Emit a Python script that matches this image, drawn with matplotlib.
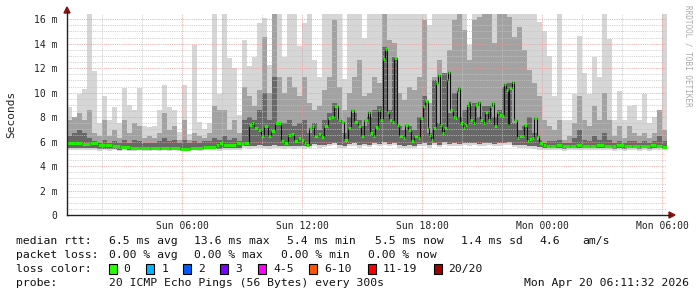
import numpy as np
import matplotlib
matplotlib.use("Agg")
import matplotlib.pyplot as plt
from matplotlib.patches import Rectangle, Polygon

# ---------------- data ----------------
start_hour = 0.25      # graph starts Sun 00:15 (hours since Sun 00:00)
step_h = 0.25          # smoke sampled every 15 min

smoke_max = [8.8, 8.0, 9.9, 10.3, 16.4, 11.8, 7.5, 9.7, 7.8, 8.8, 7.5, 10.4, 9.0, 8.6, 10.4, 7.3, 7.2, 7.3, 8.6, 10.6, 8.8, 8.6, 6.8, 10.6,
             6.6, 13.9, 7.6, 7.0, 7.5, 16.4, 9.9, 16.4, 12.8, 12.0, 8.2, 14.3, 12.2, 12.9, 15.7, 16.1, 12.3, 16.4, 16.4, 12.9, 16.4, 16.4, 13.8, 15.7,
             16.4, 12.7, 11.3, 16.4, 16.4, 16.4, 16.4, 11.1, 16.4, 16.4, 16.4, 14.5, 16.4, 16.4, 16.4, 16.4, 16.4, 16.4, 16.4, 16.4, 16.4, 16.4, 16.4, 16.4,
             15.5, 16.4, 16.4, 16.4, 16.4, 16.4, 16.4, 16.4, 13.9, 16.4, 16.4, 16.4, 16.4, 16.4, 16.4, 16.4, 16.4, 16.4, 16.4, 16.4, 16.4, 16.4, 15.8, 15.0,
             13.0, 9.7, 16.4, 7.8, 7.8, 9.9, 14.6, 11.6, 9.9, 12.9, 11.3, 16.4, 14.4, 7.8, 10.1, 7.8, 8.9, 9.0, 7.8, 9.9, 7.5, 8.0, 7.8, 16.4]

smoke_mid = [7.78, 8.05, 8.33, 7.78, 8.6, 6.69, 6.42, 7.78, 6.42, 6.97, 6.28, 7.78, 6.69, 7.51, 7.24, 6.28, 6.42, 6.28, 6.69, 8.33, 6.97, 7.24, 6.15, 7.78,
             6.15, 6.69, 6.42, 6.28, 6.69, 8.87, 8.6, 8.6, 6.97, 7.78, 6.69, 10.5, 9.69, 8.87, 10.23, 14.58, 9.96, 16.4, 11.32, 9.96, 11.32, 10.5, 9.69, 11.32,
             9.15, 8.6, 8.87, 10.23, 11.32, 15.94, 10.5, 8.6, 9.96, 11.32, 12.68, 9.69, 9.96, 11.32, 10.78, 16.4, 14.31, 14.04, 9.96, 9.42, 10.5, 10.23, 11.32, 15.94,
             9.15, 11.32, 12.68, 11.32, 13.5, 15.94, 16.4, 15.13, 12.68, 15.94, 16.21, 16.4, 16.4, 14.04, 16.4, 16.4, 16.21, 14.58, 15.4, 13.5, 11.86, 10.78, 9.69, 7.78,
             7.24, 6.97, 7.78, 6.15, 6.42, 7.51, 9.69, 7.78, 7.24, 8.87, 7.78, 9.96, 7.78, 6.42, 7.24, 6.28, 7.24, 6.69, 6.42, 6.69, 6.28, 6.69, 8.6, 6.97]

smoke_core = [6.42, 6.69, 6.97, 6.69, 6.28, 6.01, 5.88, 6.15, 5.88, 6.01, 5.88, 6.15, 5.88, 6.15, 6.01, 5.88, 5.88, 5.88, 6.01, 6.28, 6.01, 6.15, 5.88, 6.15,
              5.88, 6.01, 5.88, 6.01, 6.01, 6.28, 6.15, 6.42, 6.15, 6.28, 6.01, 7.78, 8.05, 7.78, 8.6, 9.96, 7.78, 11.32, 7.51, 7.51, 7.78, 7.24, 7.51, 7.78,
              6.69, 7.51, 6.97, 7.78, 8.33, 9.15, 7.78, 6.69, 8.05, 8.33, 7.78, 7.24, 8.05, 8.6, 8.87, 13.77, 8.6, 12.95, 7.24, 6.97, 7.24, 6.97, 8.05, 9.69,
              6.69, 11.04, 7.51, 11.59, 8.33, 9.96, 8.05, 8.6, 8.87, 9.15, 8.05, 8.87, 8.87, 8.05, 8.6, 10.5, 10.78, 7.51, 6.97, 7.24, 8.05, 6.69, 6.15, 5.88,
              6.01, 6.01, 6.15, 5.88, 5.88, 6.28, 6.97, 6.15, 6.01, 6.42, 6.15, 6.69, 6.15, 5.88, 6.01, 5.88, 6.01, 6.01, 5.88, 6.01, 5.88, 6.01, 6.42, 6.01]

smoke_min = [5.35, 5.3, 5.3, 5.35, 5.3, 5.3, 5.25, 5.3, 5.25, 5.3, 5.25, 5.3, 5.25, 5.25, 5.3, 5.25, 5.25, 5.3, 5.25, 5.3, 5.25, 5.3, 5.25, 5.3,
             5.25, 5.3, 5.25, 5.3, 5.3, 5.3, 5.25, 5.3, 5.3, 5.3, 5.3, 5.45, 5.4, 5.45, 5.5, 5.45, 5.4, 5.5, 5.45, 5.4, 5.45, 5.4, 5.45, 5.4,
             5.45, 5.6, 5.5, 5.55, 5.6, 5.7, 5.5, 5.45, 5.6, 5.65, 5.5, 5.6, 5.55, 5.7, 5.6, 5.75, 5.6, 5.7, 5.5, 5.45, 5.5, 5.45, 5.6, 5.65,
             5.5, 5.7, 5.55, 5.75, 5.6, 5.65, 5.6, 5.7, 5.65, 5.7, 5.6, 5.65, 5.7, 5.6, 5.65, 5.7, 5.75, 5.55, 5.5, 5.5, 5.45, 5.4, 5.35, 5.3,
             5.3, 5.3, 5.3, 5.25, 5.3, 5.3, 5.35, 5.3, 5.3, 5.3, 5.3, 5.35, 5.3, 5.25, 5.3, 5.25, 5.3, 5.3, 5.25, 5.3, 5.25, 5.3, 5.3, 5.3]

smoke_low = [5.5, 5.45, 5.45, 5.5, 5.45, 5.45, 5.4, 5.4, 5.4, 5.4, 5.35, 5.4, 5.35, 5.35, 5.4, 5.35, 5.35, 5.4, 5.35, 5.4, 5.35, 5.4, 5.35, 5.4,
             5.4, 5.4, 5.4, 5.45, 5.45, 5.45, 5.4, 5.45, 5.45, 5.5, 5.5, 5.65, 5.6, 5.65, 5.7, 5.65, 5.6, 5.7, 5.65, 5.6, 5.65, 5.6, 5.65, 5.6,
             5.65, 5.8, 5.7, 5.75, 5.8, 5.9, 5.7, 5.65, 5.8, 5.85, 5.7, 5.8, 5.75, 5.9, 5.8, 5.95, 5.8, 5.9, 5.7, 5.65, 5.7, 5.65, 5.8, 5.85,
             5.7, 5.9, 5.75, 5.95, 5.8, 5.85, 5.8, 5.9, 5.85, 5.9, 5.8, 5.85, 5.9, 5.8, 5.85, 5.9, 5.95, 5.75, 5.7, 5.7, 5.65, 5.6, 5.55, 5.5,
             5.45, 5.45, 5.45, 5.4, 5.45, 5.45, 5.5, 5.45, 5.45, 5.45, 5.45, 5.5, 5.45, 5.4, 5.45, 5.4, 5.45, 5.45, 5.4, 5.45, 5.4, 5.45, 5.45, 5.45]

# median rtt (hours after graph start, ms)
median_t = [0.00, 0.40, 0.75, 1.15, 1.55, 1.90, 2.25, 2.65, 3.15, 3.65, 4.15, 4.65, 5.15, 5.65, 6.15, 6.80, 7.45, 7.60, 7.80, 8.45, 8.70,
            8.87, 9.12, 9.24, 9.37, 9.54, 9.70, 9.87, 10.04, 10.20, 10.42, 10.59, 10.70, 10.87, 11.04, 11.20, 11.37, 11.54, 11.70, 11.87,
            11.95, 12.12, 12.25, 12.37, 12.54, 12.70, 12.87, 13.04, 13.20, 13.37, 13.54, 13.70, 13.87, 14.04, 14.20, 14.37, 14.54, 14.70,
            14.87, 15.04, 15.15, 15.29, 15.42, 15.54, 15.65, 15.79, 15.89, 16.00, 16.12, 16.25, 16.37, 16.49, 16.62, 16.79, 16.92, 17.04,
            17.20, 17.37, 17.54, 17.65, 17.79, 17.92, 18.04, 18.09, 18.20, 18.32, 18.45, 18.55, 18.65, 18.75, 18.87, 18.99, 19.07, 19.17,
            19.29, 19.42, 19.49, 19.57, 19.67, 19.79, 19.92, 19.99, 20.09, 20.17, 20.29, 20.42, 20.55, 20.67, 20.79, 20.90, 21.04, 21.15,
            21.25, 21.37, 21.49, 21.62, 21.75, 21.87, 21.95, 22.04, 22.12, 22.25, 22.37, 22.49, 22.62, 22.75, 22.87, 22.99, 23.12, 23.25,
            23.37, 23.49, 23.62, 23.79, 23.95, 24.15, 24.45, 24.75, 25.15, 25.45, 25.75, 26.15, 26.45, 26.85, 27.25, 27.45, 27.85, 28.25,
            28.65, 29.15, 29.45, 29.75]
median_ms = [5.85, 5.9, 5.8, 5.85, 5.75, 5.7, 5.6, 5.55, 5.5, 5.5, 5.45, 5.5, 5.45, 5.4, 5.45, 5.55, 5.7, 5.85, 5.7, 5.9, 5.8,
             5.88, 7.37, 7.56, 7.1, 6.97, 6.47, 7.24, 6.47, 6.83, 7.51, 7.56, 6.01, 5.88, 6.56, 6.64, 6.01, 6.28, 6.09, 5.88,
             5.74, 7.1, 7.29, 6.47, 6.64, 6.37, 7.24, 7.92, 8.05, 8.87, 7.78, 7.62, 6.09, 7.1, 8.6, 7.64, 7.24, 6.42,
             7.78, 8.38, 6.69, 6.42, 7.18, 8.6, 7.78, 12.73, 13.55, 8.46, 7.73, 7.64, 12.81, 7.37, 6.47, 6.28, 7.37, 6.97,
             6.01, 6.42, 6.28, 7.92, 8.87, 9.28, 7.1, 6.56, 6.15, 7.1, 10.83, 11.45, 7.37, 6.69, 7.1, 11.04, 11.72, 8.6,
             8.0, 7.92, 10.1, 10.37, 7.56, 7.1, 7.37, 9.01, 9.2, 7.78, 7.56, 9.01, 9.2, 7.78, 7.51, 8.46, 7.78, 8.87,
             9.14, 7.24, 8.46, 8.19, 8.11, 10.72, 10.23, 7.37, 10.37, 10.91, 7.78, 6.28, 6.47, 6.42, 7.37, 6.01, 6.2, 6.28,
             7.92, 6.42, 5.88, 5.74, 5.66, 5.65, 5.7, 5.6, 5.65, 5.7, 5.6, 5.6, 5.7, 5.6, 5.6, 5.7, 5.6, 5.6,
             5.65, 5.7, 5.6, 5.55]
graph_hours = 30.0

y_ticks = [0, 2, 4, 6, 8, 10, 12, 14, 16]
y_labels = ["0", "2 m", "4 m", "6 m", "8 m", "10 m", "12 m", "14 m", "16 m"]
x_ticks = [6, 12, 18, 24, 30]
x_labels = ["Sun 06:00", "Sun 12:00", "Sun 18:00", "Mon 00:00", "Mon 06:00"]

loss_labels = ["0", "1", "2", "3", "4-5", "6-10", "11-19", "20/20"]
loss_colors = ["#26ff00", "#00b8ff", "#0059ff", "#7e00ff", "#ff00ff", "#ff5500", "#ff0000", "#a10000"]

rtt_stats = ["6.5 ms avg", "13.6 ms max", "5.4 ms min", "5.5 ms now", "1.4 ms sd", "4.6", "am/s"]
loss_stats = ["0.00 % avg", "0.00 % max", "0.00 % min", "0.00 % now"]
probe_text = "20 ICMP Echo Pings (56 Bytes) every 300s"
stamp_text = "Mon Apr 20 06:11:32 2026"

# ---------------- figure ----------------
W, H = 697, 297
fig = plt.figure(figsize=(W / 100, H / 100), dpi=100)
fig.patch.set_facecolor("white")
ax = fig.add_axes([67 / W, (H - 215) / H, 600 / W, 201 / H])
ax.set_facecolor("white")

n = len(smoke_max)
edges = start_hour + step_h * np.arange(n + 1)
def ext(a):
    a = np.asarray(a, float)
    return np.append(a, a[-1])

ax.fill_between(edges, ext(smoke_min), ext(smoke_max), step="post", color="#d6d6d6", lw=0, zorder=1)
ax.fill_between(edges, ext(smoke_low), ext(smoke_mid), step="post", color="#a2a2a2", lw=0, zorder=2)
ax.fill_between(edges, ext(smoke_low), ext(smoke_core), step="post", color="#686868", lw=0, zorder=3)

mt = start_hour + np.asarray(median_t)
mv = np.asarray(median_ms)
mt_end = np.append(mt[1:], start_hour + graph_hours)
ax.step(np.append(mt, mt_end[-1]), np.append(mv, mv[-1]), where="post", color="#111111", lw=0.8, zorder=7)
ax.hlines(mv, mt, mt_end, colors="#22ee00", lw=2.2, zorder=8)

ax.set_xlim(start_hour, start_hour + graph_hours)
ax.set_ylim(0, 16.43)

# grid (drawn over the smoke, like rrdtool)
for yv in np.arange(0.5, 16.4, 0.5):
    major = abs(yv / 2 - round(yv / 2)) < 1e-6
    ax.axhline(yv, color="#e49a9a" if major else "#c4c4c4", lw=0.6,
               ls=(0, (1, 1.2)), zorder=6 if major else 5)
for xv in np.arange(2, 31, 2):
    major = xv % 6 == 0
    ax.axvline(xv, color="#e49a9a" if major else "#c4c4c4", lw=0.6,
               ls=(0, (1, 1.2)), zorder=6 if major else 5)

for s in ax.spines.values():
    s.set_visible(False)
ax.set_xticks(x_ticks)
ax.set_xticklabels(x_labels)
ax.set_yticks(y_ticks)
ax.set_yticklabels(y_labels)
ax.tick_params(length=0, labelsize=7, labelcolor="#222222")
for lab in ax.get_xticklabels() + ax.get_yticklabels():
    lab.set_family("DejaVu Sans Mono")
ax.tick_params(axis="y", pad=7)
ax.tick_params(axis="x", pad=4)

# axes lines and arrows (figure pixel coords)
def px(x, y):
    return (x / W, 1 - y / H)
fig.add_artist(plt.Line2D([67 / W, 670 / W], [1 - 215 / H, 1 - 215 / H], color="#222222", lw=1.0))
fig.add_artist(plt.Line2D([67 / W, 67 / W], [1 - 215 / H, 1 - 12 / H], color="#222222", lw=1.0))
fig.add_artist(Polygon([px(669, 212), px(675, 215), px(669, 218)], closed=True, color="#8b1010"))
fig.add_artist(Polygon([px(64, 13), px(67, 7), px(70, 13)], closed=True, color="#8b1010"))

mono = "DejaVu Sans Mono"
fig.text(11 / W, 1 - 114 / H, "Seconds", rotation=90, ha="center", va="center",
         family=mono, fontsize=8, color="#222222")
fig.text(688 / W, 1 - 5 / H, "RRDTOOL / TOBI OETIKER", rotation=270, ha="center", va="top",
         family=mono, fontsize=5.5, color="#aaaaaa")

fs = 8.2
def t(x, y, s, **kw):
    fig.text(x / W, 1 - y / H, s, family=mono, fontsize=fs, color="#111111", va="center", **kw)

t(16, 241, "median rtt:")
for xx, s in zip([108.6, 194.5, 287.4, 374.6, 461.3, 539.6, 582.5], rtt_stats):
    t(xx, 241, s)
t(16, 255, "packet loss:")
for xx, s in zip([108.6, 194.5, 280.7, 367.5], loss_stats):
    t(xx, 255, s)
t(16, 269, "loss color:")
box_x = [108.6, 146.2, 183.3, 220.4, 258.0, 309.3, 368.0, 433.6]
for bx, lab, col in zip(box_x, loss_labels, loss_colors):
    fig.add_artist(Rectangle(((bx) / W, 1 - 274 / H), 8 / W, 10 / H, facecolor=col,
                             edgecolor="#000000", lw=0.8))
    t(bx + 15, 269, lab)
t(16, 283, "probe:")
t(108.6, 283, probe_text)
t(689, 283, stamp_text, ha="right")

fig.savefig("out.png", dpi=100, facecolor="white")
